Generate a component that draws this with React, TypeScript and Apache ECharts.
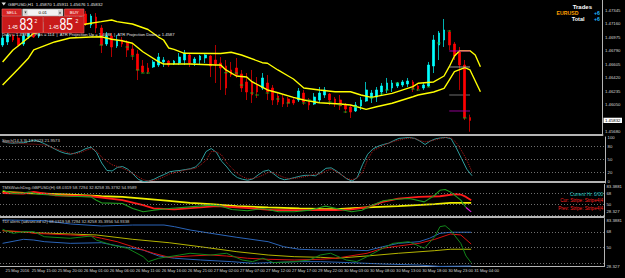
import React, { useEffect, useRef } from "react";
import * as echarts from "echarts";

// ---------- DATA ----------
const timeLabels = ["25 May 2016","25 May 15:00","25 May 20:00","26 May 01:00","26 May 06:00","26 May 11:00","26 May 16:00","26 May 21:00","27 May 02:00","27 May 07:00","27 May 12:00","27 May 17:00","29 May 22:00","30 May 03:00","30 May 08:00","30 May 13:00","30 May 18:00","30 May 23:00","31 May 04:00"];

const priceTicks = [1.4568, 1.4605, 1.46235, 1.4642, 1.46605, 1.4679, 1.46975, 1.4716, 1.47345];
const currentPrice = 1.45832;

// [open, close, low, high]
const candles = [
  [1.46868,1.46965,1.46841,1.46992],[1.46910,1.47006,1.46868,1.47033],[1.46992,1.46937,1.46910,1.47020],[1.46965,1.46868,1.46841,1.47006],
  [1.46882,1.46992,1.46855,1.47033],[1.46978,1.47047,1.46951,1.47075],[1.47033,1.46978,1.46965,1.47061],[1.46992,1.47102,1.46965,1.47130],
  [1.47088,1.47157,1.47061,1.47185],[1.47143,1.47102,1.47075,1.47171],[1.47102,1.47185,1.47088,1.47212],[1.47171,1.47240,1.47143,1.47267],
  [1.47226,1.47185,1.47157,1.47253],[1.47185,1.47253,1.47157,1.47295],[1.47240,1.47198,1.47171,1.47281],[1.47198,1.47267,1.47171,1.47308],
  [1.47295,1.47157,1.47130,1.47336],[1.47143,1.47267,1.47102,1.47295],[1.47253,1.47102,1.47033,1.47308],[1.47102,1.46868,1.46758,1.47143],
  [1.46882,1.46992,1.46855,1.47047],[1.46992,1.46841,1.46703,1.47033],[1.46855,1.46937,1.46827,1.47006],[1.46937,1.46882,1.46841,1.46978],
  [1.46896,1.46800,1.46703,1.46937],[1.46813,1.46731,1.46662,1.46896],[1.46745,1.46525,1.46387,1.46800],[1.46580,1.46497,1.46483,1.46662],
  [1.46552,1.46497,1.46470,1.46621],[1.46566,1.46635,1.46552,1.46662],[1.46593,1.46703,1.46566,1.46758],[1.46635,1.46662,1.46566,1.46703],
  [1.46648,1.46593,1.46566,1.46662],[1.46607,1.46648,1.46593,1.46662],[1.46621,1.46703,1.46593,1.46758],[1.46662,1.46758,1.46593,1.46800],
  [1.46731,1.46621,1.46566,1.46745],[1.46621,1.46676,1.46580,1.46703],[1.46662,1.46717,1.46593,1.46731],[1.46690,1.46731,1.46621,1.46758],
  [1.46717,1.46580,1.46428,1.46731],[1.46662,1.46607,1.46346,1.46868],[1.46621,1.46552,1.46250,1.46703],[1.46580,1.46277,1.46181,1.46662],
  [1.46525,1.46456,1.46428,1.46635],[1.46552,1.46456,1.46415,1.46690],[1.46470,1.46277,1.46222,1.46525],[1.46360,1.46222,1.46112,1.46483],
  [1.46360,1.46181,1.46071,1.46525],[1.46318,1.46222,1.46140,1.46428],[1.46277,1.46415,1.46250,1.46483],[1.46346,1.46222,1.46112,1.46456],
  [1.46277,1.46112,1.46043,1.46318],[1.46167,1.46085,1.46043,1.46208],[1.46140,1.46057,1.46016,1.46181],[1.46126,1.46071,1.46016,1.46153],
  [1.46112,1.46071,1.46043,1.46153],[1.46112,1.46236,1.46085,1.46277],[1.46208,1.46085,1.46043,1.46250],[1.46112,1.46043,1.45975,1.46140],
  [1.46057,1.46153,1.46043,1.46208],[1.46112,1.46208,1.46071,1.46291],[1.46181,1.46250,1.46140,1.46291],[1.46195,1.46112,1.46043,1.46208],
  [1.46126,1.46071,1.46016,1.46153],[1.46112,1.46030,1.45975,1.46181],[1.46043,1.45988,1.45933,1.46071],[1.46016,1.45947,1.45865,1.46043],
  [1.45961,1.46043,1.45947,1.46085],[1.46030,1.46112,1.45975,1.46153],[1.46098,1.46250,1.46085,1.46360],[1.46140,1.46208,1.46071,1.46250],
  [1.46153,1.46250,1.46085,1.46291],[1.46222,1.46305,1.46181,1.46346],[1.46250,1.46346,1.46208,1.46415],[1.46277,1.46346,1.46222,1.46387],
  [1.46305,1.46346,1.46277,1.46360],[1.46318,1.46360,1.46291,1.46387],[1.46332,1.46373,1.46291,1.46415],[1.46360,1.46263,1.46222,1.46387],
  [1.46305,1.46263,1.46236,1.46346],[1.46277,1.46318,1.46250,1.46346],[1.46305,1.46593,1.46291,1.46635],[1.46580,1.46937,1.46483,1.47006],
  [1.46868,1.47033,1.46662,1.47061],[1.46937,1.47075,1.46841,1.47226],[1.47047,1.46868,1.46800,1.47075],[1.46882,1.46717,1.46662,1.46910],
  [1.46772,1.46593,1.46250,1.46841],[1.46593,1.45870,1.45837,1.46662],[1.45870,1.45832,1.45676,1.45911]
];

// [bar, price] envelope lines (shifted 2 bars ahead)
const upperBand = [[0,1.46635],[2,1.46800],[3,1.46855],[6,1.47029],[10,1.47084],[13,1.47120],[17,1.47167],[19,1.47189],[21,1.47212],[22,1.47189],[25,1.47157],[28,1.47081],[30,1.46978],[31,1.46937],[32,1.46827],[33,1.46809],[35,1.46754],[42,1.46751],[44,1.46768],[46,1.46731],[50,1.46625],[51,1.46617],[53,1.46525],[55,1.46442],[56,1.46401],[58,1.46277],[61,1.46250],[64,1.46226],[67,1.46226],[69,1.46181],[71,1.46149],[75,1.46204],[79,1.46295],[80,1.46342],[83,1.46360],[85,1.46442],[86,1.46570],[87,1.46717],[88,1.46790],[90,1.46790],[91,1.46731],[92,1.46570]];
const lowerBand = [[0,1.46318],[3,1.46538],[5,1.46690],[6,1.46800],[8,1.46855],[10,1.46910],[13,1.46965],[17,1.46978],[19,1.46982],[21,1.46947],[23,1.46927],[25,1.46892],[27,1.46776],[30,1.46639],[31,1.46607],[36,1.46607],[41,1.46593],[42,1.46593],[43,1.46525],[45,1.46442],[47,1.46428],[48,1.46364],[51,1.46250],[53,1.46212],[56,1.46149],[58,1.46112],[61,1.46075],[65,1.46057],[67,1.46043],[70,1.45984],[72,1.46020],[75,1.46067],[79,1.46157],[80,1.46181],[83,1.46222],[85,1.46273],[86,1.46387],[87,1.46501],[89,1.46556],[90,1.46525],[92,1.46226]];

// small green marks [bar, price]
const greenMarks = [[19,1.46868],[24,1.46841],[25,1.46717],[26,1.46525],[27,1.46483],[28,1.46483],[43,1.46487],[45,1.46483],[46,1.46318],[48,1.46208],[49,1.46181],[51,1.46208],[53,1.46126],[55,1.46071],[58,1.46071],[59,1.46112],[63,1.46085],[65,1.46043],[66,1.45947],[68,1.46016],[71,1.46140],[73,1.46195],[74,1.46250],[76,1.46346],[79,1.46263],[80,1.46250],[82,1.46291],[84,1.46896],[86,1.47061],[89,1.45865]];

// short horizontal levels at the right end
const levelMagentaHigh = [[86,1.46786],[90,1.46786]];
const levelGreyLight = [[86,1.46566],[90,1.46566]];
const levelGreyDark = [[86,1.46181],[90,1.46181]];
const levelMagentaLow = [[86,1.45961],[90,1.45961]];

const stochMain = [90,88,87,88,88,91,94,91,86,80,74,68,64,62,65,69,75,78,66,42,25,24,32,34,28,17,5,0,1,5,11,16,22,24,25,27,29,33,45,68,75,66,46,33,18,9,5,3,6,15,23,26,17,8,4,6,9,12,14,14,13,21,30,31,24,15,6,1,9,38,62,74,80,84,87,93,98,99,100,98,92,84,92,97,99,100,97,76,52,28,13.2];
const stochSignal = [90,89,88,87,86,85,85,84,83,80,75,71,68,64,63,66,71,75,70,55,46,38,34,30,25,18,11,4,1,3,6,11,17,20,23,26,28,30,38,48,68,68,60,42,30,18,11,6,7,10,15,21,20,14,9,6,7,9,11,14,17,17,24,28,22,15,7,4,8,20,50,70,76,82,87,91,94,97,99,98,93,90,92,95,98,100,99,88,70,49,21.96];

const wdYellow = [[0,70.8],[4,69],[8,68],[13,66.4],[19,63.5],[23,62.4],[27,59.6],[32,55.6],[36,52.3],[40,50],[45,46.7],[51,44.5],[57,42.8],[61,42],[64,41.6],[70,44.5],[76,46.7],[83,50],[86,52.3],[90,52.3]];
const wdRed = [[0,69],[4,68.1],[6,70.8],[10,65.2],[17,63.5],[23,56.8],[27,48.4],[29,42.8],[33,41.1],[38,44.5],[41,46.7],[45,44.5],[48,42.8],[52,39.9],[57,39.9],[64,39.9],[67,41.1],[70,44.5],[73,53.9],[76,59.6],[80,62.4],[84,63.5],[87,66.9],[88,66.4],[89,62.4],[90,56.8]];
const wdGreen = [[0,73.6],[2,68.1],[4,69.1],[5,70.8],[7,66.9],[13,63.5],[17,62.4],[18,56.8],[19,52.3],[23,51.2],[25,42.8],[27,37.1],[29,39.9],[32,42.8],[36,45.5],[40,48.4],[42,46.7],[44,41.1],[47,38.8],[50,42.8],[53,37.1],[56,37.1],[59,39.9],[61,44.5],[62,46.7],[65,41.1],[67,37.1],[69,39.9],[71,48.4],[73,55.6],[75,58],[78,59.6],[79,58],[81,53.9],[83,65.2],[84,73.6],[85,74.8],[86,70.8],[88,56.8],[89,44.5]];
const wdGreenTail = [[89,44.5],[90,37.1]];

const tdiUpper = [[0,81.7],[8,80.9],[13,77.1],[19,74.8],[25,75.9],[31,75.9],[33,74],[36,70.2],[40,66.4],[45,61.8],[51,56.8],[54,51],[57,48.1],[61,47.2],[67,47.2],[70,46.5],[73,51],[76,54.9],[80,56.8],[82,60.7],[84,66.4],[86,67.6],[90,67.6]];
const tdiLower = [[0,54.9],[4,59.5],[6,58.7],[8,56.8],[13,54.9],[19,55.6],[23,51],[27,47.2],[30,40.4],[33,37.8],[38,35.8],[44,33.9],[48,32],[51,32.7],[57,33.9],[61,33.9],[67,32.7],[73,31.2],[80,30],[84,28.4],[90,28.9]];
const tdiMid = [[0,69.4],[6,67.1],[13,65.6],[18,64.5],[25,59.5],[32,55.6],[38,51],[45,45.3],[51,41.5],[56,39.6],[61,38.9],[64,37.8],[70,40.4],[76,43.5],[83,46.5],[86,48.1],[90,48.1]];
const tdiRed = [[0,69.4],[4,68.3],[6,66.4],[13,64.5],[17,63.3],[19,60.7],[22,56.8],[25,51],[29,43.5],[32,38.9],[36,40.4],[40,41.5],[43,40.4],[47,37.8],[51,36.6],[56,35.8],[61,36.6],[64,37.8],[70,43.5],[73,49.2],[76,51.8],[80,54.9],[83,59.5],[86,65.6],[88,64.5],[90,54.1]];
const tdiGreen = [[0,71],[2,66.4],[4,68.3],[6,68.3],[8,62.5],[13,60.7],[17,63.3],[18,58.7],[21,52.9],[24,49.2],[27,39.6],[28,33.9],[30,37.8],[34,41.5],[36,43.5],[40,41.5],[43,43.5],[46,35.8],[48,33.9],[50,37.8],[52,32.7],[56,33.9],[59,35.8],[61,41.5],[63,43.5],[66,35.8],[68,33.9],[70,39.6],[73,49.2],[75,54.9],[78,56.8],[81,49.2],[83,62.5],[84,74],[85,75.1],[86,70.2],[88,54.9],[89,40.4],[90,32.7]];

const stochTicks = [0, 20, 50, 80, 100];
const tdiTicks = [28.327, 50, 68, 83.3881];
const tdiLevels = [32, 50, 68];
const stochLevels = [20, 50, 80];

// ---------- CHART ----------
const N = 116;
const FONT = "'Liberation Sans', Arial, sans-serif";
const TXT = "#d6d6d6";
const SEP = "#b4b4b4";
const PMIN = 1.45631;
const PMAX = 1.47487;

export default function App() {
  const ref = useRef<HTMLDivElement>(null);
  useEffect(() => {
    if (!ref.current) return;
    const chart = echarts.init(ref.current, null, { renderer: "svg" });
    const cats = Array.from({ length: N }, (_, i) => String(i));

    const xAxis = (gridIndex: number, labels: boolean) => ({
      type: "category",
      gridIndex,
      data: cats,
      boundaryGap: true,
      axisLine: { show: true, lineStyle: { color: SEP, width: labels ? 1 : 2 } },
      axisTick: { show: false },
      splitLine: { show: false },
      axisLabel: labels
        ? {
            show: true,
            interval: (i: number) => i % 5 === 0 && i / 5 < timeLabels.length,
            formatter: (v: string) => {
              const i = Number(v);
              return i % 5 === 0 && timeLabels[i / 5] ? timeLabels[i / 5] : "";
            },
            align: "left",
            padding: [0, 0, 0, 3],
            margin: 1.5,
            fontSize: 4.1,
            color: TXT,
            fontFamily: FONT,
          }
        : { show: false },
    });

    const yBase = (gridIndex: number, min: number, max: number) => ({
      type: "value",
      gridIndex,
      position: "right",
      min,
      max,
      scale: true,
      axisLine: { show: true, lineStyle: { color: SEP, width: 1 } },
      axisTick: { show: false },
      splitLine: { show: false },
    });

    const lblBase = { fontSize: 4.3, color: TXT, fontFamily: FONT, margin: 2.5 };

    const tdiLabel = (shiftBottom: boolean) => ({
      ...lblBase,
      customValues: tdiTicks,
      formatter: (v: number) => {
        const s = v === 83.3881 ? "83.3881" : v === 28.327 ? "28.327" : String(Math.round(v));
        if (shiftBottom && v === 28.327) return "{lo|" + s + "}";
        if (v === 83.3881) return "{hi|" + s + "}";
        return s;
      },
      rich: {
        lo: { fontSize: 4.3, color: TXT, fontFamily: FONT, padding: [0, 0, 12, 0] },
        hi: { fontSize: 4.3, color: TXT, fontFamily: FONT, padding: [3, 0, 0, 0] },
      },
    });

    const line = (data: any, xi: number, color: string, width: number, extra: any = {}) => ({
      type: "line",
      xAxisIndex: xi,
      yAxisIndex: xi,
      data,
      symbol: "none",
      showSymbol: false,
      silent: true,
      lineStyle: { color, width, ...(extra.lineStyle || {}) },
      z: extra.z ?? 3,
      ...(extra.markLine ? { markLine: extra.markLine } : {}),
    });

    const levelsMark = (vals: number[]) => ({
      silent: true,
      symbol: "none",
      label: { show: false },
      lineStyle: { type: [1, 2], color: "#8c8c8c", width: 0.8 },
      data: vals.map((v) => ({ yAxis: v })),
    });

    const t = (x: number, y: number, text: string, fill: string, fontSize: number, extra: any = {}) => ({
      type: "text",
      x,
      y,
      silent: true,
      z: 100,
      scaleX: extra.scaleX ?? 1,
      style: {
        text,
        fill,
        fontSize,
        fontFamily: FONT,
        fontWeight: extra.bold ? "bold" : "normal",
        textAlign: extra.align ?? "left",
        textVerticalAlign: "middle",
      },
    });

    const r = (x: number, y: number, w: number, h: number, fill: string, stroke?: string) => ({
      type: "rect",
      silent: true,
      z: 99,
      shape: { x, y, width: w, height: h },
      style: { fill, stroke: stroke ?? null, lineWidth: stroke ? 0.6 : 0 },
    });

    const option: any = {
      animation: false,
      backgroundColor: "#000000",
      grid: [
        { left: -3, width: 608, top: 0, height: 135 },
        { left: -3, width: 608, top: 137, height: 46 },
        { left: -3, width: 608, top: 184.5, height: 32.5 },
        { left: -3, width: 608, top: 218.5, height: 48 },
      ],
      xAxis: [xAxis(0, false), xAxis(1, false), xAxis(2, false), xAxis(3, true)],
      yAxis: [
        { ...yBase(0, PMIN, PMAX), axisLabel: { ...lblBase, customValues: priceTicks, formatter: (v: number) => v.toFixed(5) } },
        { ...yBase(1, -3.4, 101.1), axisLabel: { ...lblBase, customValues: stochTicks, formatter: (v: number) => String(v) } },
        { ...yBase(2, 28.327, 83.3881), axisLabel: tdiLabel(true) },
        { ...yBase(3, 28.327, 83.3881), axisLabel: tdiLabel(false) },
        {
          ...yBase(0, PMIN, PMAX),
          axisLine: { show: false },
          axisLabel: {
            ...lblBase,
            customValues: [currentPrice],
            formatter: (v: number) => v.toFixed(5),
            color: "#000000",
            backgroundColor: "#ffffff",
            padding: [0.8, 1.5, 0.5, 1.5],
            margin: 1,
          },
          z: 10,
        },
      ],
      series: [
        {
          type: "candlestick",
          xAxisIndex: 0,
          yAxisIndex: 0,
          data: candles,
          barWidth: 2.2,
          silent: true,
          z: 2,
          itemStyle: { color: "#00ffff", color0: "#ff0000", borderColor: "#00ffff", borderColor0: "#ff0000", borderWidth: 0.7 },
        },
        line(upperBand, 0, "#ffff00", 1.4, { z: 4 }),
        line(lowerBand, 0, "#ffff00", 1.4, { z: 4 }),
        {
          type: "scatter",
          xAxisIndex: 0,
          yAxisIndex: 0,
          data: greenMarks,
          symbol: "rect",
          symbolSize: [3.5, 1],
          itemStyle: { color: "#1ec81e" },
          silent: true,
          z: 5,
        },
        line(levelMagentaHigh, 0, "#c000c0", 0.9, { z: 5 }),
        line(levelGreyLight, 0, "#a8a8a8", 0.9, { z: 5 }),
        line(levelGreyDark, 0, "#4a4a4a", 1.4, { z: 1 }),
        line(levelMagentaLow, 0, "#a000a0", 0.9, { z: 5 }),

        line(stochMain, 1, "#2e9c9c", 1, { markLine: levelsMark(stochLevels) }),
        line(stochSignal, 1, "#b01818", 1, { lineStyle: { type: [1, 1] } }),

        line(wdYellow, 2, "#f0f000", 1.8, { markLine: levelsMark(tdiLevels) }),
        line(wdRed, 2, "#ff1a1a", 1.8, { z: 4 }),
        line(wdGreen, 2, "#1f9a1f", 1.1, { z: 5 }),
        line(wdGreenTail, 2, "#e020e0", 1.1, { z: 5 }),

        line(tdiUpper, 3, "#2a64b8", 1, { markLine: levelsMark(tdiLevels) }),
        line(tdiLower, 3, "#2a64b8", 1),
        line(tdiMid, 3, "#b4b400", 1),
        line(tdiRed, 3, "#d81010", 1, { z: 4 }),
        line(tdiGreen, 3, "#12861a", 1, { z: 5 }),
      ],
      graphic: [
        { type: "polygon", silent: true, z: 100, shape: { points: [[1.5, 2.5], [6, 2.5], [3.75, 5.5]] }, style: { fill: "#e0e0e0" } },
        t(8, 4.2, "GBPUSD,H1  1.45870 1.45911 1.45676 1.45832", "#e0e0e0", 4.4),
        r(2, 9, 19.5, 7, "#d42424", "#f06a6a"),
        t(11.75, 12.6, "SELL", "#ffffff", 4.4, { align: "center" }),
        r(22.5, 9, 40.5, 7, "#f2f2f2", "#9a9a9a"),
        r(23.5, 10, 4, 5, "#d0d0d0"),
        r(58, 10, 4, 5, "#d0d0d0"),
        { type: "polygon", silent: true, z: 101, shape: { points: [[24.5, 11.5], [26.5, 11.5], [25.5, 13.5]] }, style: { fill: "#333" } },
        { type: "polygon", silent: true, z: 101, shape: { points: [[59, 13.5], [61, 13.5], [60, 11.5]] }, style: { fill: "#333" } },
        t(42.75, 12.6, "0.01", "#000000", 4.4, { align: "center" }),
        r(64.5, 9, 19.5, 7, "#d42424", "#f06a6a"),
        t(74.25, 12.6, "BUY", "#ffffff", 4.4, { align: "center" }),
        r(2, 16.5, 41, 16.5, "#c81a1a", "#e85a5a"),
        r(43.5, 16.5, 40.5, 16.5, "#c81a1a", "#e85a5a"),
        t(8, 27, "1.45", "#ffffff", 5),
        t(19.5, 24.8, "83", "#ffffff", 16.5, { scaleX: 0.74 }),
        t(34.5, 21, "2", "#ffffff", 5),
        t(49, 27, "1.45", "#ffffff", 5),
        t(59.5, 24.8, "85", "#ffffff", 16.5, { scaleX: 0.74 }),
        t(75.5, 21, "2", "#ffffff", 5),
        t(2, 34.3, "Daily = 1.4587  |  Pips = 114  |  ATR Projection Up = 1.4688  |  ATR Projection Down = 1.4587", "#e6e6e6", 4.2),
        t(592, 6.5, "Trades", "#ffffff", 6, { bold: true, align: "right" }),
        t(578.5, 13.2, "EURUSD", "#ffa000", 5.2, { bold: true, align: "right" }),
        t(594, 13.2, "+6", "#22b8ff", 5.2, { bold: true }),
        t(584.5, 19.4, "Total", "#ffffff", 5.5, { bold: true, align: "right" }),
        t(594, 19.4, "+6", "#22b8ff", 5.2, { bold: true }),
        t(2, 140.8, "Stoch(14,3,3) 13.2023 21.9573", "#d0d0d0", 4.2),
        t(2, 187.2, "TMSWatchDog-GBPUSD(H) 68.0319 58.7294 32.8258 35.3792 54.9589", "#d0d0d0", 4.2),
        t(2, 221.2, "TDI alerts (advanced v2) 68.0319 58.7294 32.8258 35.3956 54.9338", "#d0d0d0", 4.2),
        t(603, 194.3, "Current Hr: 0/00", "#22c8c8", 4.6, { align: "right" }),
        t(603, 200.8, "Cur: Stripe: Stripe4|4", "#ff2020", 4.6, { align: "right" }),
        t(603, 208.2, "Prev: Stripe: Stripe4|4", "#ff2020", 4.6, { align: "right" }),
      ],
    };

    chart.setOption(option);
    return () => chart.dispose();
  }, []);

  return (
    <div
      ref={ref}
      style={{ position: "fixed", left: 0, top: 0, width: 625, height: 278, background: "#000" }}
    />
  );
}
